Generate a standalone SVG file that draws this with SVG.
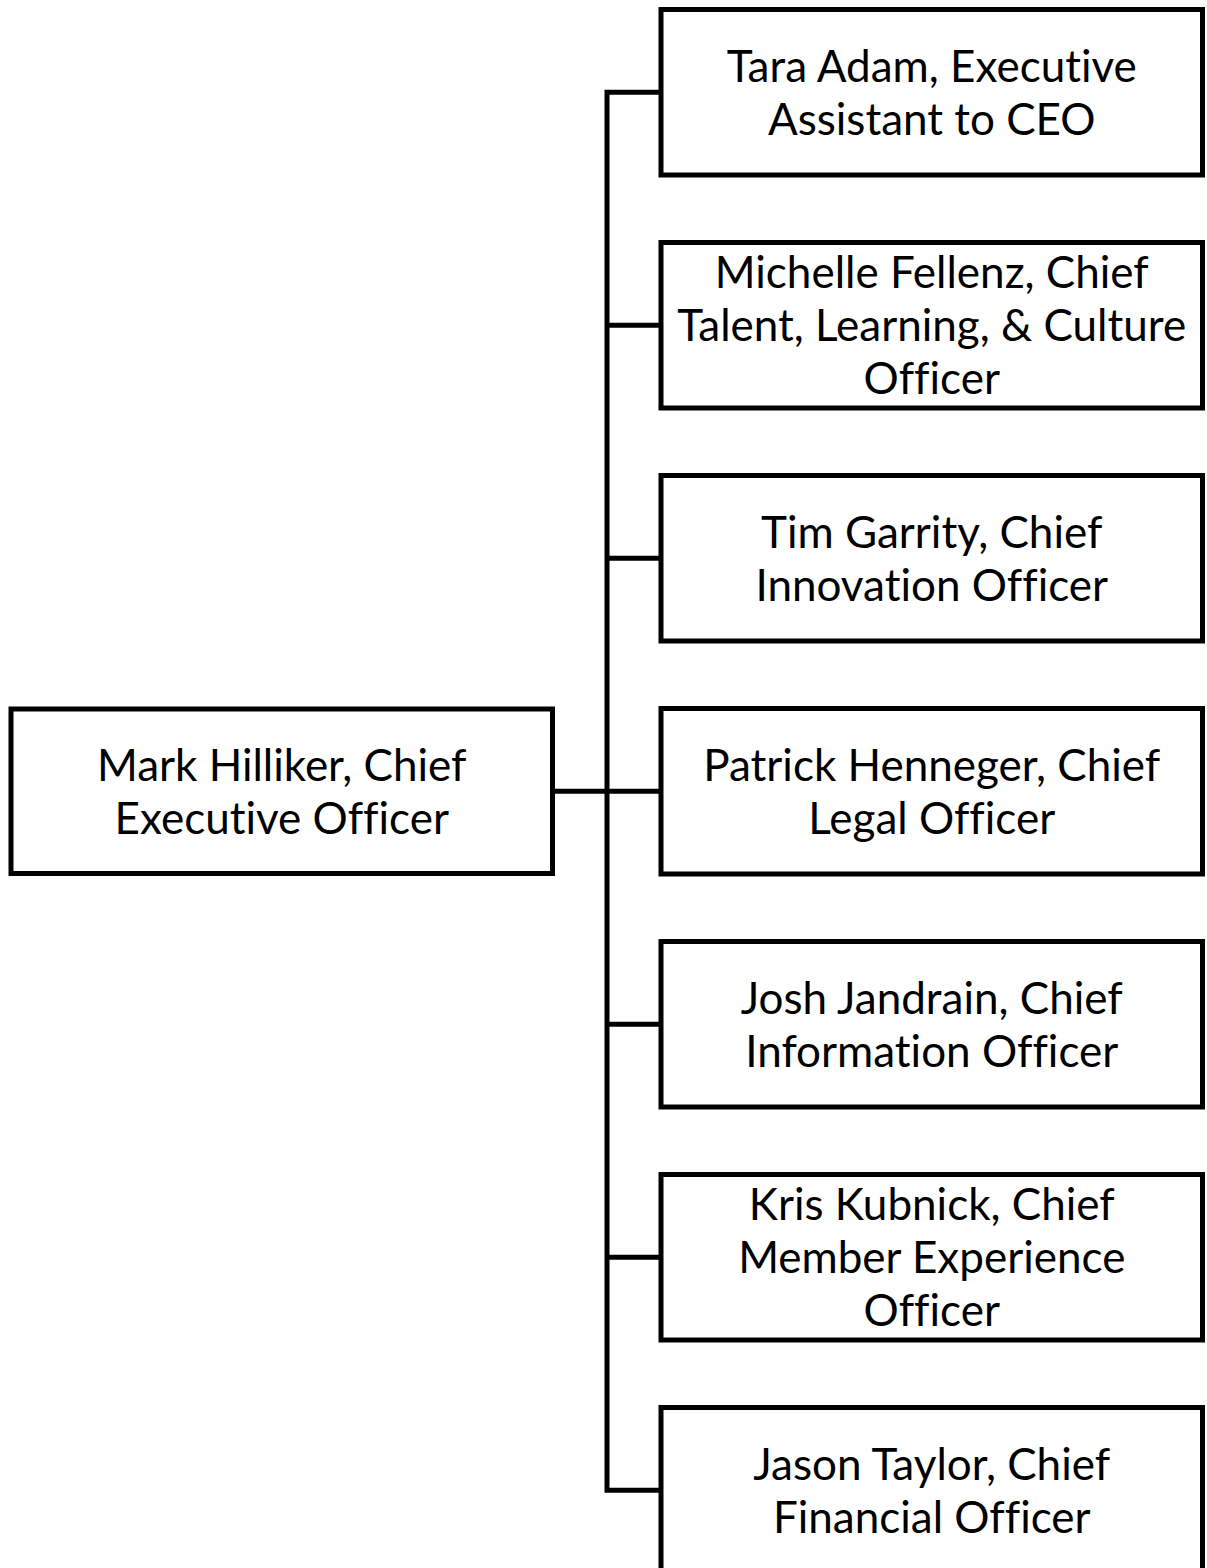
<svg xmlns="http://www.w3.org/2000/svg" width="1207" height="1568" viewBox="0 0 1207 1568">
<style>
.box{fill:#fff;stroke:#000;stroke-width:5}
.conn{fill:none;stroke:#000;stroke-width:5;stroke-linejoin:miter}
text{font-family:Lato,"Open Sans",sans-serif;font-size:44px;fill:#000;text-anchor:middle;font-variant-ligatures:none}
</style>
<rect width="1207" height="1568" fill="#fff"/>
<g id="connectors">
<path class="conn" d="M661,92.25 H607 V1490.25 H661"/>
<path class="conn" d="M552.5,791.25 H661"/>
<path class="conn" d="M607,325.25 H661 M607,558.25 H661 M607,1024.25 H661 M607,1257.25 H661"/>
</g>
<g id="ceo">
<rect class="box" x="11" y="709" width="541.5" height="164.5"/>
<text x="281.75" y="780.75">Mark Hilliker, Chief</text>
<text x="281.75" y="833.75">Executive Officer</text>
</g>
<g id="tara">
<rect class="box" x="661" y="9.5" width="541.5" height="165.5"/>
<text x="931.75" y="81.75">Tara Adam, Executive</text>
<text x="931.75" y="134.75">Assistant to CEO</text>
</g>
<g id="michelle">
<rect class="box" x="661" y="242.5" width="541.5" height="165.5"/>
<text x="931.75" y="288.25">Michelle Fellenz, Chief</text>
<text x="931.75" y="341.25">Talent, Learning, &amp; Culture</text>
<text x="931.75" y="394.25">Officer</text>
</g>
<g id="tim">
<rect class="box" x="661" y="475.5" width="541.5" height="165.5"/>
<text x="931.75" y="547.75">Tim Garrity, Chief</text>
<text x="931.75" y="600.75">Innovation Officer</text>
</g>
<g id="patrick">
<rect class="box" x="661" y="708.5" width="541.5" height="165.5"/>
<text x="931.75" y="780.75">Patrick Henneger, Chief</text>
<text x="931.75" y="833.75">Legal Officer</text>
</g>
<g id="josh">
<rect class="box" x="661" y="941.5" width="541.5" height="165.5"/>
<text x="931.75" y="1013.75">Josh Jandrain, Chief</text>
<text x="931.75" y="1066.75">Information Officer</text>
</g>
<g id="kris">
<rect class="box" x="661" y="1174.5" width="541.5" height="165.5"/>
<text x="931.75" y="1220.25">Kris Kubnick, Chief</text>
<text x="931.75" y="1273.25">Member Experience</text>
<text x="931.75" y="1326.25">Officer</text>
</g>
<g id="jason">
<rect class="box" x="661" y="1407.5" width="541.5" height="165.5"/>
<text x="931.75" y="1479.75">Jason Taylor, Chief</text>
<text x="931.75" y="1532.75">Financial Officer</text>
</g>
</svg>
